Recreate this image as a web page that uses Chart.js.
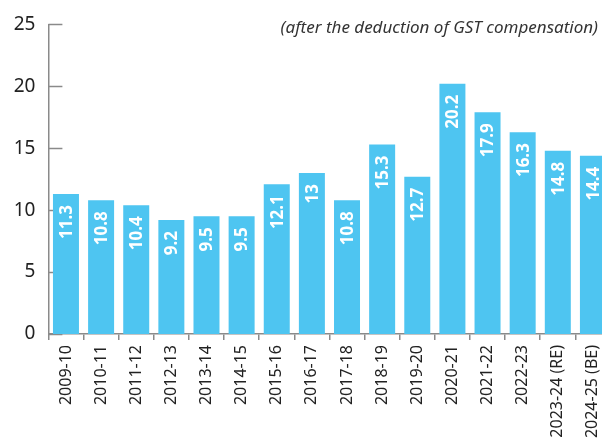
<!DOCTYPE html>
<html>
<head>
<meta charset="utf-8">
<script src="https://cdn.jsdelivr.net/npm/chart.js@4"></script>
<style>
  html, body { margin: 0; padding: 0; background: #fff; overflow: hidden; }
  #wrap { width: 612px; height: 446px; }
</style>
</head>
<body>
<div id="wrap"><canvas id="chart" width="612" height="446"></canvas></div>
<script>
const years = ['2009-10', '2010-11', '2011-12', '2012-13', '2013-14', '2014-15', '2015-16', '2016-17',
  '2017-18', '2018-19', '2019-20', '2020-21', '2021-22', '2022-23', '2023-24 (RE)', '2024-25 (BE)'];
const values = [11.3, 10.8, 10.4, 9.2, 9.5, 9.5, 12.1, 13, 10.8, 15.3, 12.7, 20.2, 17.9, 16.3, 14.8, 14.4];
const note = '(after the deduction of GST compensation)';

const FONT = '"Noto Sans", "Open Sans", sans-serif';
const AXIS = '#8a8a8a';

// short y tick marks pointing into the plot, drawn under the bars
const innerTicks = {
  id: 'innerTicks',
  beforeDatasetsDraw(chart) {
    const { ctx, chartArea, scales } = chart;
    ctx.save();
    ctx.strokeStyle = AXIS;
    ctx.lineWidth = 1.5;
    scales.y.ticks.forEach((t) => {
      const y = Math.round(scales.y.getPixelForValue(t.value)) + 0.5;
      ctx.beginPath();
      ctx.moveTo(chartArea.left, y);
      ctx.lineTo(chartArea.left + 14, y);
      ctx.stroke();
    });
    ctx.restore();
  }
};

// rotated white value labels near the bar tops + italic note
const barLabels = {
  id: 'barLabels',
  afterDatasetsDraw(chart) {
    const { ctx } = chart;
    const meta = chart.getDatasetMeta(0);
    ctx.save();
    ctx.fillStyle = '#fff';
    ctx.font = 'bold 17px ' + FONT;
    ctx.textAlign = 'right';
    ctx.textBaseline = 'middle';
    meta.data.forEach((bar, i) => {
      ctx.save();
      ctx.translate(bar.x + 1, bar.y + 11);
      ctx.rotate(-Math.PI / 2);
      ctx.fillText(String(values[i]), 0, 0);
      ctx.restore();
    });
    ctx.fillStyle = '#333';
    ctx.font = 'italic 17px ' + FONT;
    ctx.textAlign = 'right';
    ctx.textBaseline = 'alphabetic';
    ctx.fillText(note, 598, 33);
    ctx.restore();
  }
};

new Chart(document.getElementById('chart').getContext('2d'), {
  type: 'bar',
  data: {
    labels: years,
    datasets: [{
      data: values,
      backgroundColor: '#4ec5f1',
      borderWidth: 0,
      barPercentage: 0.74,
      categoryPercentage: 1
    }]
  },
  options: {
    responsive: false,
    animation: false,
    layout: { padding: { top: 13, right: 1.5, left: 0, bottom: 0 } },
    plugins: { legend: { display: false }, tooltip: { enabled: false } },
    scales: {
      y: {
        min: 0,
        max: 25,
        ticks: { stepSize: 5, color: '#222', padding: 13, font: { family: FONT, size: 19 } },
        grid: { display: false, drawTicks: false },
        border: { display: true, color: AXIS, width: 1.5 },
        afterFit(scale) { scale.width = 48.4; }
      },
      x: {
        ticks: { color: '#222', minRotation: 90, maxRotation: 90, padding: 5, autoSkip: false, font: { family: FONT, size: 16 } },
        grid: { display: true, drawOnChartArea: false, drawTicks: true, tickLength: 6, color: AXIS, lineWidth: 1.5 },
        border: { display: true, color: AXIS, width: 1.5 },
        afterFit(scale) {
          scale.height = 112;
          scale.paddingLeft = 0;
          scale.paddingRight = 0;
        }
      }
    }
  },
  plugins: [innerTicks, barLabels]
});
</script>
</body>
</html>
